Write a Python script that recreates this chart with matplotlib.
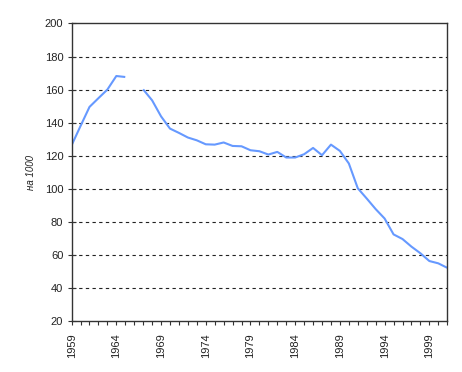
import numpy as np
import matplotlib.pyplot as plt
from matplotlib.ticker import MultipleLocator, FixedLocator

# rate per 1000, 1959-2001 (1966 missing)
years = list(range(1959, 2002))
values = [126.3, 138.0, 149.5, 154.8, 160.0, 168.2, 167.6, np.nan, 160.1, 153.5,
          143.8, 136.4, 133.8, 131.0, 129.3, 126.9, 126.7, 128.0, 125.9, 125.7,
          123.3, 122.7, 120.7, 122.3, 118.9, 118.9, 120.9, 124.7, 120.3, 126.7,
          122.9, 115.3, 100.3, 94.1, 87.7, 82.0, 72.4, 69.6, 65.0, 61.0,
          56.3, 54.9, 52.2]
major_years = list(range(1959, 2000, 5))
y_ticks = list(range(20, 201, 20))

plt.rcParams['font.family'] = ['Liberation Sans', 'DejaVu Sans']
text_col = '#222222'

fig = plt.figure(figsize=(4.62, 3.72), dpi=100)
ax = fig.add_axes([0.155, 0.137, 0.813, 0.8])

ax.plot(years, values, color='#6699ff', linewidth=1.5, solid_capstyle='butt')

ax.set_xlim(1959, 2001)
ax.set_ylim(20, 200)
ax.set_yticks(y_ticks)
ax.xaxis.set_major_locator(FixedLocator(major_years))
ax.xaxis.set_minor_locator(MultipleLocator(1))
ax.set_xticklabels([str(y) for y in major_years], rotation=90)

for y in y_ticks[1:-1]:
    ax.axhline(y, color='#222222', linewidth=0.8, linestyle=(0, (3, 3)), zorder=0)

for s in ax.spines.values():
    s.set_color('#333333')
    s.set_linewidth(1.0)

ax.tick_params(axis='y', direction='inout', length=6, width=0.8, colors='#333333',
               labelcolor=text_col, labelsize=8, pad=3)
ax.tick_params(axis='x', which='both', direction='out', length=3, width=0.8,
               colors='#333333', labelcolor=text_col, labelsize=8, pad=6)

ax.set_ylabel('на 1000', fontsize=7, style='italic', color=text_col)
ax.yaxis.set_label_coords(-0.095, 0.5)

fig.savefig('out.png', dpi=100)
